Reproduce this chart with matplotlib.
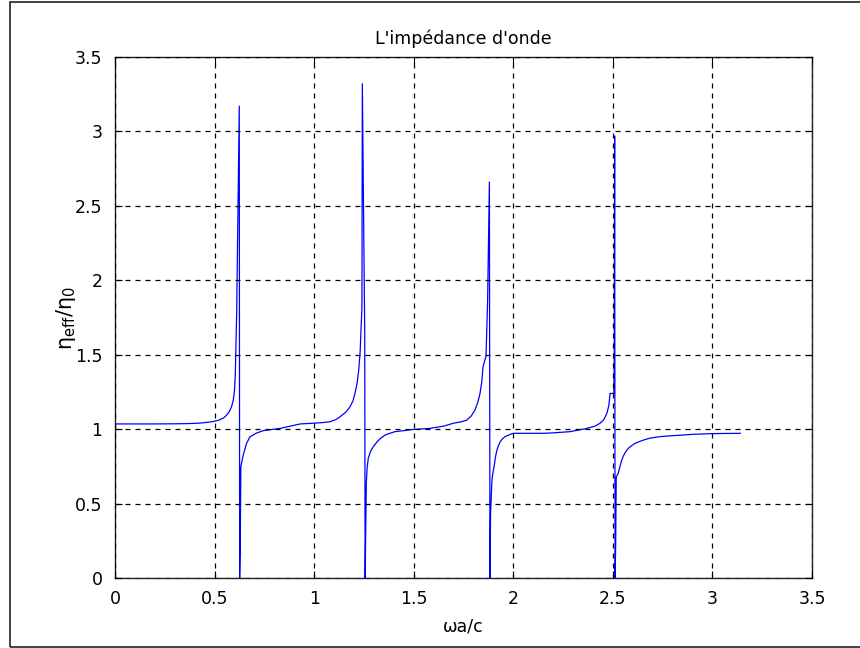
import matplotlib
matplotlib.use("Agg")
import matplotlib.pyplot as plt
from matplotlib.patches import Rectangle
from matplotlib.ticker import FuncFormatter

plt.rcParams['font.family'] = ['DejaVu Sans']
plt.rcParams['mathtext.fontset'] = 'dejavusans'

title = "L'impédance d'onde"
xlabel = "ωa/c"
ylabel = r"η$_{\mathrm{eff}}$/η$_{\mathrm{0}}$"

# values
omega_a_c = [0.00, 0.10, 0.20, 0.30, 0.36, 0.42, 0.46, 0.49, 0.52, 0.545,
             0.561, 0.575, 0.585, 0.594, 0.600, 0.604, 0.611, 0.624, 0.626, 0.629,
             0.632, 0.644, 0.661, 0.678, 0.711, 0.745, 0.83, 0.93, 1.00, 1.05,
             1.08, 1.11, 1.13, 1.16, 1.18, 1.195, 1.205, 1.216, 1.224, 1.231,
             1.236, 1.240, 1.242, 1.254, 1.256,
             1.259, 1.262, 1.266, 1.272, 1.283, 1.296, 1.316, 1.335, 1.356, 1.38,
             1.406, 1.45, 1.497, 1.58, 1.65,
             1.70, 1.74, 1.766, 1.79, 1.808, 1.822, 1.833, 1.842, 1.848, 1.863,
             1.871, 1.880, 1.883, 1.886,
             1.893, 1.898, 1.904, 1.910, 1.918, 1.926, 1.934, 1.946, 1.959, 1.980,
             1.999, 2.15, 2.20, 2.285, 2.369,
             2.41, 2.436, 2.455, 2.470, 2.480, 2.486, 2.505, 2.507, 2.509, 2.511,
             2.514, 2.517, 2.526,
             2.536, 2.543, 2.551, 2.563, 2.577, 2.595, 2.612, 2.65, 2.687, 2.74,
             2.788, 2.90, 3.00, 3.14]
eta_ratio = [1.035, 1.035, 1.035, 1.036, 1.037, 1.040, 1.045, 1.050, 1.060, 1.075,
             1.095, 1.12, 1.15, 1.195, 1.26, 1.36, 1.78, 3.17, 0.00, 0.235,
             0.75, 0.826, 0.906, 0.949, 0.974, 0.99, 1.005, 1.035, 1.04, 1.045,
             1.05, 1.065, 1.083, 1.115, 1.15, 1.19, 1.24, 1.31, 1.40, 1.52,
             1.69, 1.81, 3.32, 1.645, 0.00,
             0.32, 0.64, 0.74, 0.806, 0.85, 0.88, 0.915, 0.94, 0.96, 0.972,
             0.983, 0.99, 0.998, 1.005, 1.02,
             1.04, 1.05, 1.06, 1.09, 1.13, 1.18, 1.24, 1.32, 1.42, 1.49,
             1.855, 2.66, 0.00, 0.44,
             0.66, 0.71, 0.75, 0.81, 0.86, 0.89, 0.915, 0.935, 0.95, 0.962,
             0.972, 0.972, 0.975, 0.983, 1.005,
             1.02, 1.04, 1.065, 1.106, 1.16, 1.24, 1.24, 1.48, 2.97, 0.00,
             0.21, 0.68, 0.70,
             0.75, 0.785, 0.815, 0.845, 0.87, 0.89, 0.905, 0.925, 0.94, 0.95,
             0.955, 0.965, 0.97, 0.972]

xticks = [0, 0.5, 1, 1.5, 2, 2.5, 3, 3.5]
yticks = [0, 0.5, 1, 1.5, 2, 2.5, 3, 3.5]

W, H = 860, 648
fig = plt.figure(figsize=(W / 100, H / 100), dpi=100)
fig.patch.set_facecolor('white')

# outer frame
fig.patches.append(Rectangle((9.5 / W, 1.5 / H), (W + 20) / W, (645 / H),
                             transform=fig.transFigure, fill=False,
                             edgecolor='#222222', linewidth=1.2, clip_on=False))

left, right, top, bottom = 115, 812, 57, 578
ax = fig.add_axes([left / W, 1 - bottom / H, (right - left) / W, (bottom - top) / H])

ax.plot(omega_a_c, eta_ratio, color=(0, 0, 1), linewidth=0.9)

ax.set_xlim(0, 3.5)
ax.set_ylim(0, 3.5)
ax.set_xticks(xticks)
ax.set_yticks(yticks)
fmt = FuncFormatter(lambda v, p: f"{v:g}")
ax.xaxis.set_major_formatter(fmt)
ax.yaxis.set_major_formatter(fmt)

ax.grid(True, color='black', linestyle=(0, (4, 4)), linewidth=0.9)
ax.set_axisbelow(False)
ax.tick_params(direction='in', length=5, width=0.8, top=True, right=True,
               labelsize=12.5, colors='black')
ax.tick_params(axis='x', pad=9)
ax.tick_params(axis='y', pad=9)
for s in ax.spines.values():
    s.set_linewidth(1.0)
    s.set_color('#222222')

ax.set_title(title, fontsize=12.5, pad=9)
ax.set_xlabel(xlabel, fontsize=12.5)
ax.set_ylabel(ylabel, fontsize=15)
ax.xaxis.set_label_coords(0.5, -0.075)
ax.yaxis.set_label_coords(-0.053, 0.5)

fig.savefig("out.png", dpi=100, facecolor='white')
